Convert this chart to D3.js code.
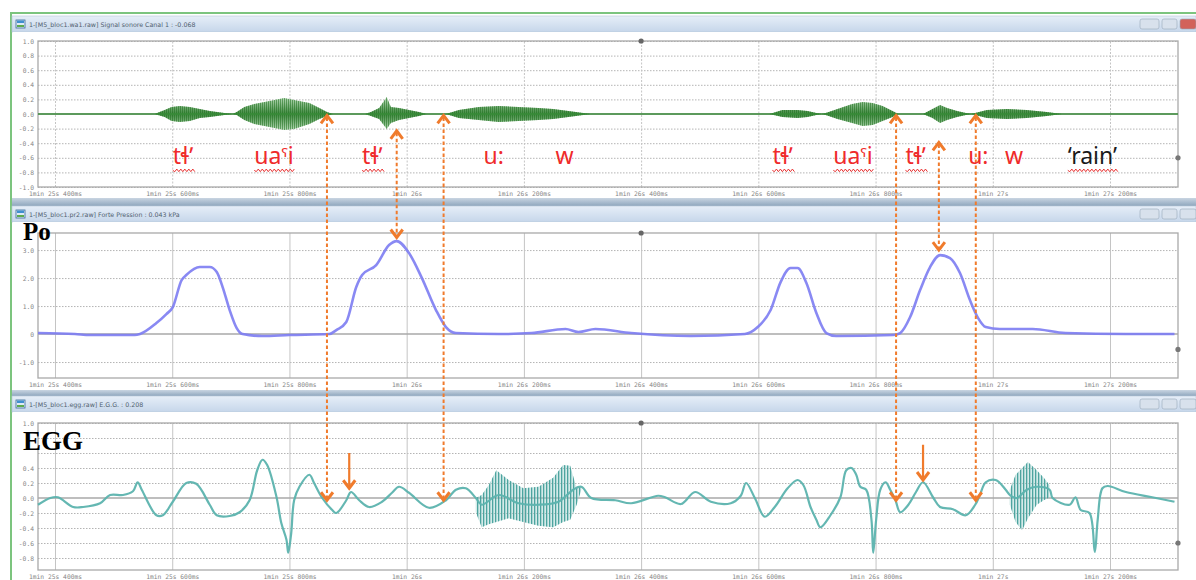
<!DOCTYPE html>
<html>
<head>
<meta charset="utf-8">
<script src="https://cdn.jsdelivr.net/npm/d3@7"></script>
<style>
  body { margin: 0; background: #fff; }
  svg { display: block; }
</style>
</head>
<body>
<svg id="chart" width="1196" height="580"></svg>
<script>
// time axis (seconds)
const tickTimes = [85.4, 85.6, 85.8, 86.0, 86.2, 86.4, 86.6, 86.8, 87.0, 87.2];
const tickLabels = ['1min 25s 400ms', '1min 25s 600ms', '1min 25s 800ms', '1min 26s', '1min 26s 200ms',
  '1min 26s 400ms', '1min 26s 600ms', '1min 26s 800ms', '1min 27s', '1min 27s 200ms'];

const panelTitles = ['1-[M5_bloc1.wa1.raw] Signal sonore Canal 1 : -0.068',
  '1-[M5_bloc1.pr2.raw] Forte Pression : 0.043 kPa',
  '1-[M5_bloc1.egg.raw] E.G.G. : 0.208'];
const panelNames = ['', 'Po', 'EGG'];

const sonTicks = [1, 0.8, 0.6, 0.4, 0.2, 0, -0.2, -0.4, -0.6, -0.8, -1];
const sonTickLabels = ['1.0', '0.8', '0.6', '0.4', '0.2', '0.0', '-0.2', '-0.4', '-0.6', '-0.8', '-1.0'];
const poTicks = [3, 2, 1, 0, -1];
const poTickLabels = ['3.0', '2.0', '1.0', '0', '-1.0'];
const eggTicks = [1, 0.8, 0.6, 0.4, 0.2, 0, -0.2, -0.4, -0.6, -0.8];
const eggTickLabels = ['1.0', '', '', '0.4', '0.2', '0.0', '-0.2', '-0.4', '-0.6', '-0.8'];

// sound signal envelope
const sonTime = [85.371, 85.570, 85.587, 85.599, 85.613, 85.630, 85.647, 85.664, 85.689, 85.703,
  85.710, 85.723, 85.740, 85.766, 85.791, 85.808, 85.834, 85.851, 85.864, 85.874,
  85.929, 85.939, 85.953, 85.966, 85.973, 85.987, 86.004, 86.021, 86.034,
  86.067, 86.089, 86.123, 86.157, 86.191, 86.225, 86.250, 86.276, 86.301, 86.313,
  86.619, 86.641, 86.667, 86.684, 86.699, 86.708,
  86.715, 86.735, 86.760, 86.778, 86.795, 86.812, 86.829, 86.839,
  86.881, 86.897, 86.910, 86.922, 86.939, 86.954, 86.963,
  86.990, 87.024, 87.058, 87.092, 87.118, 87.310];
const sonUpper = [0, 0, .055, .097, .11, .097, .069, .041, .014, 0,
  .028, .097, .138, .179, .22, .193, .152, .083, .028, 0,
  0, .028, .083, .234, .097, .083, .055, .028, 0,
  0, .055, .097, .11, .097, .083, .069, .041, .014, 0,
  0, .055, .055, .041, .014, 0,
  .014, .069, .138, .166, .152, .11, .041, 0,
  0, .069, .124, .083, .041, .014, 0,
  .055, .069, .055, .028, 0, 0];
const sonLower = [0, 0, -.041, -.097, -.11, -.097, -.055, -.041, -.014, 0,
  -.014, -.083, -.138, -.179, -.22, -.207, -.138, -.069, -.028, 0,
  0, -.028, -.069, -.207, -.124, -.083, -.055, -.028, 0,
  0, -.055, -.083, -.11, -.097, -.083, -.069, -.041, -.014, 0,
  0, -.041, -.055, -.041, -.014, 0,
  -.014, -.069, -.124, -.166, -.152, -.097, -.041, 0,
  0, -.055, -.124, -.083, -.041, -.014, 0,
  -.055, -.069, -.055, -.028, 0, 0];

// oral pressure
const poTime = [85.371, 85.434, 85.460, 85.536, 85.545, 85.573, 85.590, 85.601, 85.616, 85.624,
  85.647, 85.664, 85.676, 85.686, 85.698, 85.710, 85.720, 85.754, 85.800, 85.868,
  85.880, 85.897, 85.914, 85.924, 85.948, 85.970, 85.983, 86.004, 86.026, 86.050,
  86.067, 86.084, 86.157, 86.213, 86.271, 86.293, 86.322, 86.383, 86.485, 86.577,
  86.599, 86.621, 86.638, 86.655, 86.667, 86.682, 86.699, 86.716, 86.733, 86.830,
  86.842, 86.859, 86.876, 86.893, 86.910, 86.927, 86.944, 86.961, 86.975, 86.988,
  87.012, 87.068, 87.124, 87.227, 87.310];
const poValue = [0.036, 0, -0.036, -0.036, 0, 0.393, 0.714, 0.964, 1.93, 2.107,
  2.393, 2.393, 2.214, 1.679, 0.857, 0.214, 0, -0.071, -0.036, 0,
  0.143, 0.429, 1.679, 2.107, 2.464, 3.179, 3.321, 2.893, 2.0, 0.857,
  0.25, 0.036, 0, 0.036, 0.179, 0.071, 0.179, 0.036, -0.071, 0,
  0.25, 0.857, 1.857, 2.357, 2.357, 1.821, 0.75, 0.036, -0.071, -0.036,
  0.036, 0.607, 1.571, 2.393, 2.821, 2.714, 2.179, 1.214, 0.571, 0.25,
  0.179, 0.179, 0.036, 0, 0];

// EGG
const eggTime = [85.371, 85.392, 85.405, 85.431, 85.448, 85.477, 85.494, 85.516, 85.533, 85.541,
  85.548, 85.573, 85.584, 85.601, 85.624, 85.641, 85.664, 85.676, 85.698, 85.715,
  85.732, 85.745, 85.754, 85.762, 85.778, 85.786, 85.795, 85.798, 85.803, 85.808,
  85.817, 85.834, 85.842, 85.856, 85.873, 85.880, 85.897, 85.905, 85.919, 85.936,
  85.958, 85.975, 85.987, 86.004, 86.038, 86.067, 86.084, 86.101, 86.118, 86.128,
  86.157, 86.191, 86.225, 86.259, 86.284, 86.298, 86.315, 86.356, 86.383, 86.429,
  86.441, 86.468, 86.492, 86.519, 86.553, 86.570, 86.579, 86.594, 86.611, 86.628,
  86.650, 86.667, 86.677, 86.689, 86.699, 86.706, 86.723, 86.740, 86.750, 86.759,
  86.767, 86.774, 86.784, 86.793, 86.796, 86.801, 86.808, 86.817, 86.825, 86.834,
  86.842, 86.856, 86.869, 86.881, 86.898, 86.910, 86.932, 86.954, 86.970, 86.978,
  86.988, 87.005, 87.022, 87.029, 87.041, 87.058, 87.075, 87.097, 87.102, 87.131,
  87.141, 87.150, 87.165, 87.174, 87.179, 87.187, 87.196, 87.227, 87.272, 87.310];
const eggValue = [-0.09, 0, 0.01, -0.12, -0.12, -0.07, 0.04, 0.04, 0.09, 0.21,
  0.11, -0.23, -0.23, -0.05, 0.2, 0.19, -0.09, -0.23, -0.24, -0.19,
  -0.03, 0.37, 0.51, 0.44, 0.01, -0.33, -0.56, -0.73, -0.47, -0.03,
  0.15, 0.31, 0.2, 0, -0.16, -0.2, -0.03, 0.08, -0.03, -0.12,
  -0.05, 0.07, 0.15, 0.07, -0.13, -0.03, 0.11, 0.13, 0, -0.09,
  0.04, -0.07, -0.09, -0.05, 0.11, 0.15, 0, -0.03, -0.07, 0.03,
  0.01, -0.08, 0.08, -0.05, -0.07, 0.03, 0.2, 0, -0.25, -0.12,
  0.13, 0.24, 0.17, -0.12, -0.29, -0.39, -0.23, 0.01, 0.37, 0.4,
  0.31, 0.15, 0.11, -0.29, -0.73, -0.29, 0.11, 0.21, 0.11, -0.03,
  -0.19, -0.09, 0.08, 0.21, 0.01, -0.12, -0.15, -0.23, -0.09, 0.04,
  0.21, 0.24, 0.11, 0.04, 0, 0.11, 0.15, 0.11, 0, -0.09,
  0.01, -0.16, -0.2, -0.72, -0.29, 0.13, 0.16, 0.08, 0.01, -0.05];
// EGG voiced stretches (envelope of the fast oscillation)
const voice1Time = [86.118, 86.128, 86.140, 86.153, 86.174, 86.199, 86.225, 86.250, 86.267, 86.279, 86.290, 86.298];
const voice1Upper = [0, 0.04, 0.17, 0.37, 0.24, 0.13, 0.15, 0.27, 0.44, 0.43, 0.13, 0.15];
const voice1Lower = [-0.19, -0.39, -0.35, -0.32, -0.27, -0.32, -0.37, -0.39, -0.32, -0.29, -0.09, 0.11];
const voice2Time = [87.029, 87.039, 87.050, 87.060, 87.075, 87.087, 87.097];
const voice2Upper = [0.11, 0.31, 0.4, 0.48, 0.37, 0.27, 0.17];
const voice2Lower = [-0.09, -0.32, -0.43, -0.27, -0.09, -0.03, 0.01];

// annotations
const ipaLabels = ['tɬʼ', 'uaˤi', 'tɬʼ', 'u:', 'w', 'tɬʼ', 'uaˤi', 'tɬʼ', 'u:', 'w'];
const ipaTimes = [85.601, 85.740, 85.924, 86.131, 86.254, 86.624, 86.728, 86.851, 86.958, 87.021];
const glossLabel = '‘rain’';
const glossTime = 87.128;

const linkTimes = [85.864, 85.983, 86.063, 86.835, 86.908, 86.971];
const linkTopValues = [-0.02, -0.23, -0.02, -0.02, -0.39, -0.02];
const linkBottomPanels = ['egg', 'po', 'egg', 'egg', 'po', 'egg'];
const linkBottomValues = [-0.03, 3.45, -0.03, -0.03, 3.0, -0.03];
const markTimes = [85.902, 86.881];
const markFrom = [0.6, 0.71];
const markTo = [0.13, 0.24];

(function() {
  const svg = d3.select('#chart');
  const W = 1196, H = 580;
  const left = 38, right = 1178;
  const orange = '#f07b2c';

  const x = d3.scaleLinear().domain([85.371, 87.316]).range([left, right]);

  const panels = [
    {key: 'son', top: 41, bottom: 187, domain: [-1, 1], ticks: sonTicks, labels: sonTickLabels, bar: 16, end: 198},
    {key: 'po', top: 233, bottom: 378, domain: [-1.57, 3.61], ticks: poTicks, labels: poTickLabels, bar: 206, end: 390},
    {key: 'egg', top: 423, bottom: 570, domain: [-0.96, 1], ticks: eggTicks, labels: eggTickLabels, bar: 396, end: 580}
  ];
  const yOf = {};
  panels.forEach(p => {
    p.y = d3.scaleLinear().domain(p.domain).range([p.bottom, p.top]);
    yOf[p.key] = p.y;
  });

  const defs = svg.append('defs');
  const barGrad = defs.append('linearGradient').attr('id', 'bar').attr('x1', 0).attr('x2', 0).attr('y1', 0).attr('y2', 1);
  barGrad.append('stop').attr('offset', 0).attr('stop-color', '#e6eef8');
  barGrad.append('stop').attr('offset', 1).attr('stop-color', '#c6d6ea');
  const sepGrad = defs.append('linearGradient').attr('id', 'sep').attr('x1', 0).attr('x2', 0).attr('y1', 0).attr('y2', 1);
  sepGrad.append('stop').attr('offset', 0).attr('stop-color', '#c9d5e2');
  sepGrad.append('stop').attr('offset', 1).attr('stop-color', '#8ea6bd');
  defs.append('pattern').attr('id', 'sonHatch').attr('width', 2).attr('height', 4)
    .attr('patternUnits', 'userSpaceOnUse')
    .append('rect').attr('width', 1).attr('height', 4).attr('fill', '#1d701d');
  defs.append('pattern').attr('id', 'eggHatch').attr('width', 3).attr('height', 4)
    .attr('patternUnits', 'userSpaceOnUse')
    .append('rect').attr('width', 1.3).attr('height', 4).attr('fill', '#3e9c97');
  const sy = panels[0].y;
  const sonGrad = defs.append('linearGradient').attr('id', 'sonGrad').attr('gradientUnits', 'userSpaceOnUse')
    .attr('x1', 0).attr('x2', 0).attr('y1', sy(0.24)).attr('y2', sy(-0.24));
  sonGrad.append('stop').attr('offset', 0).attr('stop-color', '#b6dcb6');
  sonGrad.append('stop').attr('offset', 0.5).attr('stop-color', '#1f741f');
  sonGrad.append('stop').attr('offset', 1).attr('stop-color', '#b6dcb6');

  svg.append('rect').attr('width', W).attr('height', H).attr('fill', '#fff');
  // outer frame
  svg.append('line').attr('x1', 10).attr('x2', W).attr('y1', 13).attr('y2', 13)
    .attr('stroke', '#7cc47e').attr('stroke-width', 2);
  svg.append('line').attr('x1', 11).attr('x2', 11).attr('y1', 13).attr('y2', H)
    .attr('stroke', '#7cc47e').attr('stroke-width', 2);

  panels.forEach((p, i) => {
    const g = svg.append('g');
    if (i > 0) {
      g.append('rect').attr('x', 12).attr('y', panels[i - 1].end).attr('width', W - 12)
        .attr('height', p.bar - panels[i - 1].end).attr('fill', 'url(#sep)');
    }
    g.append('rect').attr('x', 12).attr('y', p.bar).attr('width', W - 12).attr('height', 16)
      .attr('fill', 'url(#bar)').attr('stroke', '#b5c5d8').attr('stroke-width', 0.6);
    g.append('rect').attr('x', 16).attr('y', p.bar + 4).attr('width', 9).attr('height', 8)
      .attr('fill', '#dfeaf5').attr('stroke', '#3a6a98').attr('stroke-width', 0.8);
    g.append('rect').attr('x', 17).attr('y', p.bar + 4.5).attr('width', 7).attr('height', 2.5).attr('fill', '#3f8fd0');
    g.append('rect').attr('x', 17).attr('y', p.bar + 9).attr('width', 7).attr('height', 2).attr('fill', '#5cab4f');
    g.append('text').attr('x', 29).attr('y', p.bar + 10.5)
      .attr('font-family', 'DejaVu Sans').attr('font-size', 6.3).attr('fill', '#50606e')
      .text(panelTitles[i]);
    // window buttons
    const btn = [[1140, 19], [1162, 15], [1180, 16]];
    btn.forEach((b, k) => {
      g.append('rect').attr('x', b[0]).attr('y', p.bar + 3).attr('width', b[1]).attr('height', 10).attr('rx', 2)
        .attr('fill', (i === 0 && k === 2) ? '#d2625a' : '#d8e1ec').attr('stroke', '#98a8ba').attr('stroke-width', 0.6);
    });
    g.append('rect').attr('x', 13).attr('y', p.bar + 16).attr('width', W - 13).attr('height', p.end - p.bar - 16)
      .attr('fill', '#fff');

    // gridlines
    g.append('g').attr('transform', 'translate(' + left + ',0)')
      .call(d3.axisLeft(p.y).tickValues(p.ticks.filter(t => t !== 0)).tickSize(-(right - left)).tickFormat(''))
      .call(a => a.select('.domain').remove())
      .call(a => a.selectAll('line').attr('stroke', '#b4b4b4').attr('stroke-dasharray', '1.5,1.5'));
    g.append('g').attr('transform', 'translate(0,' + p.bottom + ')')
      .call(d3.axisBottom(x).tickValues(tickTimes).tickSize(-(p.bottom - p.top)).tickFormat(''))
      .call(a => a.select('.domain').remove())
      .call(a => a.selectAll('line').attr('stroke', '#c4c4c4').attr('stroke-dasharray', i === 0 ? '2,1.5' : null));
    g.append('line').attr('x1', left).attr('x2', right).attr('y1', p.y(0)).attr('y2', p.y(0))
      .attr('stroke', '#a8a8a8').attr('stroke-width', 1.4);
    g.append('rect').attr('x', left).attr('y', p.top).attr('width', right - left).attr('height', p.bottom - p.top)
      .attr('fill', 'none').attr('stroke', '#a9a9a9').attr('stroke-width', 1.3);

    // tick labels
    g.append('g').attr('transform', 'translate(' + (left - 1) + ',0)')
      .call(d3.axisLeft(p.y).tickValues(p.ticks).tickFormat((d, k) => p.labels[k]).tickSize(0).tickPadding(3))
      .call(a => a.select('.domain').remove())
      .call(a => a.selectAll('text').attr('font-family', 'DejaVu Sans Mono').attr('font-size', 6.3).attr('fill', '#858585'));
    g.append('g').attr('transform', 'translate(0,' + p.bottom + ')')
      .call(d3.axisBottom(x).tickValues(tickTimes).tickFormat((d, k) => tickLabels[k]).tickSize(0).tickPadding(4.5))
      .call(a => a.select('.domain').remove())
      .call(a => a.selectAll('text').attr('font-family', 'DejaVu Sans Mono').attr('font-size', 6.3).attr('fill', '#858585'));

    // cursor knobs
    g.append('circle').attr('cx', x(86.4)).attr('cy', p.top).attr('r', 2.6).attr('fill', '#666');
    g.append('circle').attr('cx', right).attr('cy', p.y(p.key === 'po' ? -0.55 : -0.6)).attr('r', 2.6).attr('fill', '#777');

    if (panelNames[i]) {
      g.append('text').attr('x', 23).attr('y', p.key === 'po' ? 240 : 450)
        .attr('font-family', 'Liberation Serif').attr('font-weight', 'bold')
        .attr('font-size', p.key === 'po' ? 25 : 27).attr('fill', '#000')
        .text(panelNames[i]);
    }
  });

  // sound signal
  const son = d3.range(sonTime.length);
  const sonArea = d3.area().x(i => x(sonTime[i])).y0(i => sy(sonLower[i])).y1(i => sy(sonUpper[i]));
  svg.append('path').attr('d', sonArea(son)).attr('fill', 'url(#sonGrad)').attr('opacity', 0.85);
  svg.append('path').attr('d', sonArea(son)).attr('fill', 'url(#sonHatch)').attr('opacity', 0.55);
  svg.append('line').attr('x1', left).attr('x2', right).attr('y1', sy(0)).attr('y2', sy(0))
    .attr('stroke', '#3b8e3b').attr('stroke-width', 1.6);

  // Po
  const py = yOf.po;
  const poLine = d3.line().x(i => x(poTime[i])).y(i => py(poValue[i])).curve(d3.curveMonotoneX);
  svg.append('path').attr('d', poLine(d3.range(poTime.length)))
    .attr('fill', 'none').attr('stroke', '#7c7cf2').attr('stroke-width', 2.6).attr('opacity', 0.9);

  // EGG
  const ey = yOf.egg;
  [[voice1Time, voice1Upper, voice1Lower], [voice2Time, voice2Upper, voice2Lower]].forEach(v => {
    const area = d3.area().x(i => x(v[0][i])).y0(i => ey(v[2][i])).y1(i => ey(v[1][i]));
    const idx = d3.range(v[0].length);
    svg.append('path').attr('d', area(idx)).attr('fill', '#9fd3cf').attr('opacity', 0.45);
    svg.append('path').attr('d', area(idx)).attr('fill', 'url(#eggHatch)').attr('opacity', 0.9);
  });
  const eggLine = d3.line().x(i => x(eggTime[i])).y(i => ey(eggValue[i])).curve(d3.curveCatmullRom.alpha(0.5));
  svg.append('path').attr('d', eggLine(d3.range(eggTime.length)))
    .attr('fill', 'none').attr('stroke', '#5cb3ae').attr('stroke-width', 2.2).attr('opacity', 0.95);

  // arrows
  const head = (tx, ty, dir) => {
    svg.append('polyline')
      .attr('points', [[tx - 6, ty + 8 * dir], [tx, ty], [tx + 6, ty + 8 * dir]].map(q => q.join(',')).join(' '))
      .attr('fill', 'none').attr('stroke', orange).attr('stroke-width', 3).attr('stroke-linejoin', 'miter');
  };
  linkTimes.forEach((t, i) => {
    const xx = x(t);
    const y1 = sy(linkTopValues[i]);
    const y2 = yOf[linkBottomPanels[i]](linkBottomValues[i]);
    svg.append('line').attr('x1', xx).attr('x2', xx).attr('y1', y1 + 2).attr('y2', y2 - 2)
      .attr('stroke', orange).attr('stroke-width', 2).attr('stroke-dasharray', '3.5,2.5');
    head(xx, y1, 1);
    head(xx, y2, -1);
  });
  markTimes.forEach((t, i) => {
    const xx = x(t);
    svg.append('line').attr('x1', xx).attr('x2', xx).attr('y1', ey(markFrom[i])).attr('y2', ey(markTo[i]) - 2)
      .attr('stroke', orange).attr('stroke-width', 2.2);
    head(xx, ey(markTo[i]), -1);
  });

  // phonetic labels
  const wavy = (x0, x1, yy) => {
    let d = 'M' + x0 + ',' + yy, k = 0;
    for (let xx = x0; xx < x1; xx += 2) {
      d += ' L' + (xx + 2) + ',' + (yy + (k++ % 2 ? -1.3 : 1.3));
    }
    return d;
  };
  const labelY = sy(-0.69);
  const allLabels = ipaLabels.map((s, i) => ({s: s, t: ipaTimes[i], gloss: false}))
    .concat([{s: glossLabel, t: glossTime, gloss: true}]);
  allLabels.forEach(l => {
    const txt = svg.append('text').attr('x', x(l.t)).attr('y', labelY)
      .attr('font-family', 'Noto Sans, DejaVu Sans').attr('font-size', 23)
      .attr('fill', l.gloss ? '#1a1a1a' : '#ef2b2b').text(l.s);
    if (/[^\x00-\x7F]/.test(l.s)) {
      const w = txt.node().getComputedTextLength();
      svg.append('path').attr('d', wavy(x(l.t), x(l.t) + w, labelY + 6))
        .attr('fill', 'none').attr('stroke', '#e83030').attr('stroke-width', 1);
    }
  });
})();
</script>
</body>
</html>
